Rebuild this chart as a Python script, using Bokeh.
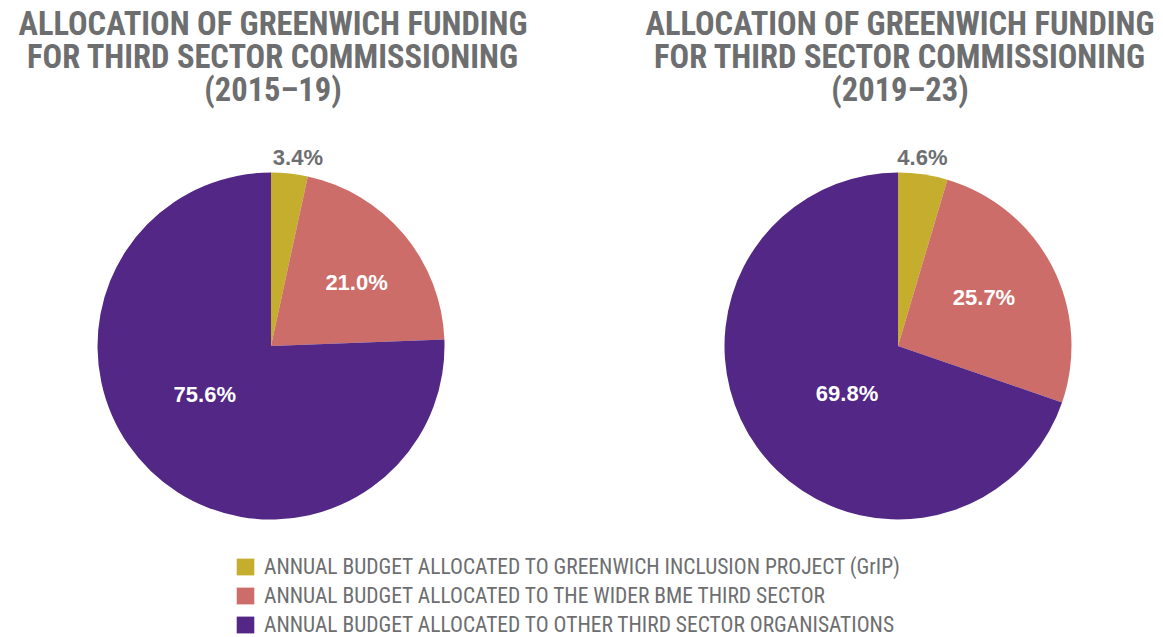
import math
from bokeh.plotting import figure
from bokeh.models import Range1d, ColumnDataSource, Legend, LegendItem
from bokeh.core.properties import value
from bokeh.embed import file_html
from bokeh.resources import INLINE

# ---------------- data ----------------
periods = ["2015–19", "2019–23"]
categories = [
    "ANNUAL BUDGET ALLOCATED TO GREENWICH INCLUSION PROJECT (GrIP)",
    "ANNUAL BUDGET ALLOCATED TO THE WIDER BME THIRD SECTOR",
    "ANNUAL BUDGET ALLOCATED TO OTHER THIRD SECTOR ORGANISATIONS",
]
values_2015_19 = [3.4, 21.0, 75.6]
values_2019_23 = [4.6, 25.7, 69.8]
title_lines = ["ALLOCATION OF GREENWICH FUNDING", "FOR THIRD SECTOR COMMISSIONING"]

# ---------------- style / layout ----------------
colors = ["#C5AE2D", "#CD6D6A", "#522786"]
GRAY = "#6D6E70"
COND = "Roboto Condensed"
W, H = 1163, 637
centers_x = [270.5, 897.5]
center_y = 291.5
R = 173.5
# label placement: radius fraction and angular nudge (deg) from slice mid-angle
label_r = [[1.097, 0.614, 0.473], [1.096, 0.568, 0.403]]
label_dang = [[2.0, 3.4, 9.9], [-0.9, -2.0, -7.7]]
label_colors = [GRAY, "white", "white"]
title_baselines = [614, 581, 548]

p = figure(width=W, height=H, x_range=Range1d(0, W), y_range=Range1d(0, H),
           output_backend="svg", toolbar_location=None, min_border=0,
           x_axis_location=None, y_axis_location=None)
p.grid.visible = False
p.outline_line_color = None
p.background_fill_color = "white"

all_values = [values_2015_19, values_2019_23]

renderers = []
for ci in range(len(categories)):
    xs, starts, ends = [], [], []
    for pi, vals in enumerate(all_values):
        total = sum(vals)
        before = sum(vals[:ci]) / total
        after = sum(vals[:ci + 1]) / total
        xs.append(centers_x[pi])
        starts.append(math.pi / 2 - before * 2 * math.pi)
        ends.append(math.pi / 2 - after * 2 * math.pi)
    src = ColumnDataSource(dict(x=xs, y=[center_y] * len(xs), s=starts, e=ends))
    r = p.wedge(x="x", y="y", radius=R, start_angle="s", end_angle="e",
                direction="clock", source=src, fill_color=colors[ci],
                line_color=None)
    renderers.append(r)

# percentage labels
lx, ly, lt, lc = [], [], [], []
for pi, vals in enumerate(all_values):
    total = sum(vals)
    cum = 0.0
    for ci, v in enumerate(vals):
        mid = (cum + v / 2) / total
        cum += v
        ang = math.pi / 2 - mid * 2 * math.pi - math.radians(label_dang[pi][ci])
        rr = label_r[pi][ci] * R
        lx.append(centers_x[pi] + rr * math.cos(ang))
        ly.append(center_y + rr * math.sin(ang))
        lt.append(f"{v:.1f}%")
        lc.append(label_colors[ci])
p.text(x="x", y="y", text="t", text_color="c",
       source=ColumnDataSource(dict(x=lx, y=ly, t=lt, c=lc)),
       text_font=value("Liberation Sans"), text_font_style="bold",
       text_font_size="22px", text_align="center", text_baseline="middle")

# titles
tx, ty, tt = [], [], []
for pi, per in enumerate(periods):
    lines = title_lines + [f"({per})"]
    for li, line in enumerate(lines):
        tx.append(centers_x[pi] + 2)
        ty.append(title_baselines[li])
        tt.append(line)
p.text(x="x", y="y", text="t", source=ColumnDataSource(dict(x=tx, y=ty, t=tt)),
       text_color=GRAY, text_font=value(COND),
       text_font_style="bold", text_font_size="32.5px",
       text_align="center", text_baseline="alphabetic")

legend = Legend(
    items=[LegendItem(label=categories[i], renderers=[renderers[i]], index=0)
           for i in range(len(categories))],
    location=(234, 0), orientation="vertical",
    glyph_width=22, glyph_height=21, label_height=21,
    spacing=4, padding=0, margin=0, label_standoff=8,
    label_text_font=COND, label_text_font_size="21.5px",
    label_text_color=GRAY, background_fill_alpha=0, border_line_color=None,
)
p.add_layout(legend, "center")

open("out.html", "w").write(file_html(p, INLINE))
